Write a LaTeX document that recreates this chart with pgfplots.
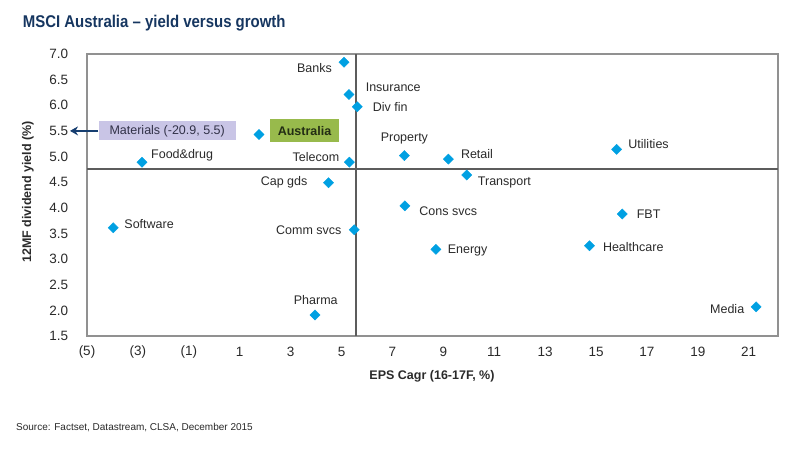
\documentclass[border=0pt]{standalone}
\usepackage{pgfplots}
\usepackage{pgfplotstable}
\usepackage{fontspec}
\usetikzlibrary{arrows.meta}
\pgfplotsset{compat=1.18}
\setmainfont{Liberation Sans}
\newfontfamily\titlefont{Liberation Sans}[FakeStretch=0.88, Ligatures=TeX]

\definecolor{mkblue}{RGB}{0,160,226}
\definecolor{titlenavy}{RGB}{22,54,96}
\definecolor{arrownavy}{RGB}{22,62,112}
\definecolor{ausgreen}{RGB}{152,186,76}
\definecolor{matlav}{RGB}{201,197,230}
\definecolor{quadline}{RGB}{92,92,92}
\definecolor{framegray}{RGB}{145,145,145}
\definecolor{labelgray}{RGB}{42,42,42}

\newcommand{\lblfont}{\fontsize{12.5pt}{15pt}\selectfont}

% sector, EPS growth 16-17F (x), 12MF dividend yield (y)
\pgfplotstableread[col sep=comma]{
x,y,name
5.10,6.84,Banks
5.29,6.21,Insurance
5.62,5.97,Div fin
-2.84,4.89,Food&drug
5.31,4.89,Telecom
4.49,4.49,Cap gds
-3.97,3.61,Software
5.50,3.57,Comm svcs
3.96,1.91,Pharma
7.47,5.02,Property
9.20,4.95,Retail
9.92,4.64,Transport
15.81,5.14,Utilities
7.49,4.04,Cons svcs
16.03,3.88,FBT
8.71,3.19,Energy
14.74,3.26,Healthcare
21.29,2.07,Media
}\sectors

% \sectorlabel{x}{y}{anchor}{dx}{dy}{text}
\newcommand{\sectorlabel}[6]{%
  \node[anchor=#3, xshift=#4pt, yshift=#5pt, inner sep=0pt,
    font=\lblfont, text=labelgray] at (axis cs:#1,#2) {#6};}

\begin{document}
\begin{tikzpicture}
\begin{axis}[
  at={(87pt,117pt)}, anchor=south west,
  scale only axis, width=691pt, height=282pt,
  xmin=-5, xmax=22.15, ymin=1.5, ymax=7,
  clip=false,
  axis line style={draw=framegray, line width=1.3pt},
  major tick length=0pt, tick style={draw=none},
  xtick={-5,-3,...,21},
  xticklabels={(5),(3),(1),1,3,5,7,9,11,13,15,17,19,21},
  ytick={1.5,2,...,7},
  /pgf/number format/assume math mode=true,
  /pgf/number format/fixed,
  /pgf/number format/fixed zerofill,
  /pgf/number format/precision=1,
  ticklabel style={font=\fontsize{13.5pt}{15pt}\selectfont, text=labelgray, inner sep=0pt},
  xticklabel style={anchor=center, yshift=-15.7pt},
  yticklabel style={anchor=east, xshift=-18.7pt},
]
% quadrant dividers: market growth and market yield
\addplot[quadline, line width=2pt] coordinates {(5.57,1.5) (5.57,7)};
\addplot[quadline, line width=2pt] coordinates {(-5,4.76) (22.15,4.76)};

% sectors
\addplot[only marks, mark=square*, mark size=3.6pt,
  mark options={rotate=45, fill=mkblue, draw=mkblue}]
  table[x=x, y=y] {\sectors};

% market aggregate
\addplot[only marks, mark=square*, mark size=3.6pt,
  mark options={rotate=45, fill=mkblue, draw=mkblue},
  point meta=explicit symbolic,
  nodes near coords,
  every node near coord/.append style={anchor=west, xshift=11pt, yshift=3.9pt,
    fill=ausgreen, inner xsep=7.5pt, inner ysep=0pt, minimum height=23pt,
    font=\lblfont\bfseries, text={rgb,255:red,35;green,45;blue,20}},
] coordinates {(1.76,5.43) [Australia]};

% sector names
\sectorlabel{5.10}{6.84}{east}{-12}{-5.7}{Banks}
\sectorlabel{5.29}{6.21}{west}{16.7}{7.6}{Insurance}
\sectorlabel{5.62}{5.97}{west}{15.4}{0}{Div fin}
\sectorlabel{-2.84}{4.89}{west}{9}{6.6}{Food\&drug}
\sectorlabel{5.31}{4.89}{east}{-10}{5}{Telecom}
\sectorlabel{4.49}{4.49}{east}{-21}{0}{Cap gds}
\sectorlabel{-3.97}{3.61}{west}{11}{3.7}{Software}
\sectorlabel{5.50}{3.57}{east}{-12.6}{0}{Comm svcs}
\sectorlabel{3.96}{1.91}{center}{0.7}{15}{Pharma}
\sectorlabel{7.47}{5.02}{center}{0}{17}{Property}
\sectorlabel{9.20}{4.95}{west}{12.4}{5}{Retail}
\sectorlabel{9.92}{4.64}{west}{11}{-7.3}{Transport}
\sectorlabel{15.81}{5.14}{west}{11.6}{5}{Utilities}
\sectorlabel{7.49}{4.04}{west}{14.3}{-5.3}{Cons svcs}
\sectorlabel{16.03}{3.88}{west}{14.4}{0}{FBT}
\sectorlabel{8.71}{3.19}{west}{11.7}{-0.7}{Energy}
\sectorlabel{14.74}{3.26}{west}{13.4}{-1}{Healthcare}
\sectorlabel{21.29}{2.07}{east}{-11.7}{-2.3}{Media}

% Materials sits off the scale to the left
\draw[arrownavy, line width=2pt, -{Stealth[length=8pt,width=9pt]}]
  (axis cs:-4.556,5.5) -- (axis cs:-5.668,5.5);
\node[anchor=west, fill=matlav, minimum width=137.4pt, minimum height=19pt,
  inner sep=0pt, font=\lblfont, text={rgb,255:red,50;green,50;blue,72}]
  at (axis cs:-4.556,5.5) {Materials (-20.9, 5.5)};
\end{axis}

\node[anchor=base west, inner sep=0pt, font=\titlefont\fontsize{17pt}{20pt}\selectfont\bfseries, text=titlenavy]
  at (22.7pt,425pt) {MSCI Australia – yield versus growth};
\node[rotate=90, font=\lblfont\bfseries, text=labelgray] at (28pt,261pt)
  {12MF dividend yield (\%)};
\node[font=\lblfont\bfseries, text=labelgray] at (432pt,77pt)
  {EPS Cagr (16-17F, \%)};
\node[anchor=base west, inner sep=0pt, font=\fontsize{10pt}{12pt}\selectfont,
  text={rgb,255:red,40;green,40;blue,40}] at (16pt,22.3pt)
  {Source: Factset, Datastream, CLSA, December 2015};

\pgfresetboundingbox
\path (0,0) rectangle (800pt,453pt);
\end{tikzpicture}
\end{document}
